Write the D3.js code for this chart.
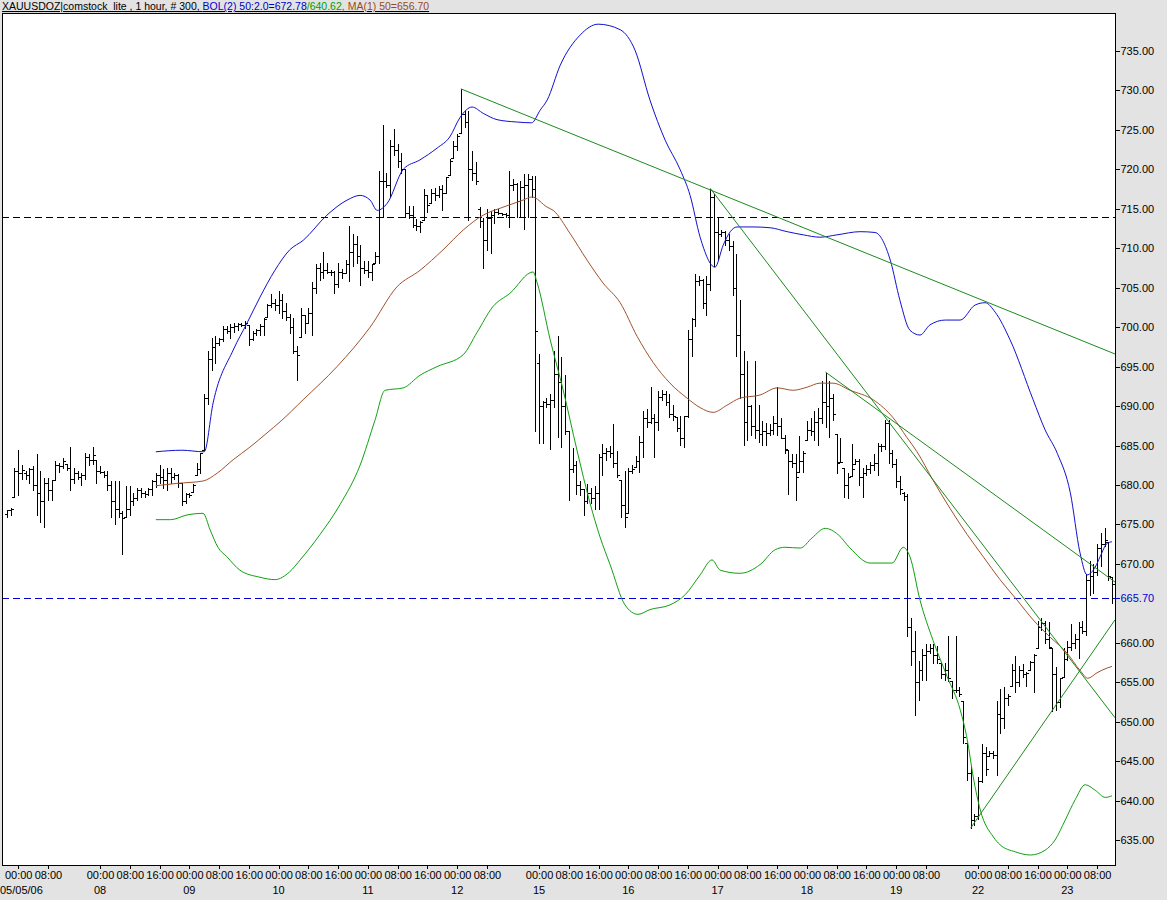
<!DOCTYPE html>
<html><head><meta charset="utf-8">
<script src="https://cdn.jsdelivr.net/npm/d3@7"></script>
<style>
body{margin:0;background:#e3e3e3;}
svg{display:block;font-family:"Liberation Sans",Arial,sans-serif;}
</style>
</head><body><svg id="c" width="1167" height="900"></svg>
<script>
// ---------- DATA (hourly OHLC, XAUUSD, 04 May 2006 21:00 -> 23 May 2006 12:00, weekends skipped) ----------
const openP = [
676.3,676.8,678.5,681.8,681.5,681.5,681.3,682.0,680.0,679.0,
678.0,680.3,679.3,680.6,682.5,682.4,682.7,682.2,680.8,681.5,
681.0,681.2,683.5,683.2,683.2,681.8,681.7,681.2,680.0,678.0,
677.0,676.5,676.0,677.0,678.0,678.4,679.3,679.0,678.9,679.5,
680.5,681.2,681.0,680.6,681.5,681.0,681.3,680.2,678.0,678.8,
679.1,681.3,682.0,684.4,691.0,696.0,697.5,698.0,698.5,699.8,
699.5,700.0,700.2,700.4,700.3,700.3,698.5,699.2,699.6,700.2,
701.3,702.8,703.0,702.8,703.5,702.0,701.3,700.0,697.0,698.8,
701.5,700.5,701.8,705.0,707.5,707.0,707.3,707.0,707.0,705.5,
707.0,706.8,708.0,709.5,710.5,709.0,707.5,707.2,707.0,708.1,
709.0,718.5,718.5,718.0,723.0,722.5,721.0,720.0,714.5,714.2,
713.0,712.8,713.6,716.8,715.7,717.0,716.8,717.5,717.0,719.3,
721.4,723.0,724.6,727.0,726.0,720.0,719.5,715.0,713.5,711.0,
713.8,714.2,714.6,714.5,714.3,714.2,718.0,718.2,716.0,717.8,
718.0,718.8,717.5,695.5,690.0,690.5,690.2,690.8,694.0,693.0,
690.0,686.8,682.0,682.5,680.0,679.5,678.0,679.0,678.3,679.0,
683.5,684.0,684.3,684.0,682.8,680.6,677.5,676.4,681.8,682.3,
683.0,685.5,688.5,688.0,688.5,688.0,691.2,691.5,690.5,689.0,
688.6,687.2,686.0,688.7,698.5,701.0,705.8,706.0,703.0,705.5,
716.5,712.0,711.8,712.0,711.0,710.3,705.0,699.0,694.0,688.0,
690.0,687.5,687.0,686.5,686.8,686.6,687.0,687.8,687.5,686.0,
684.4,683.0,682.8,681.7,683.0,685.7,687.0,686.8,688.0,688.5,
690.5,690.0,691.0,686.5,682.9,682.1,680.0,681.1,682.6,683.0,
681.0,681.5,682.0,682.5,682.8,685.0,685.0,687.8,684.0,682.6,
680.5,679.0,678.6,662.0,659.0,655.0,656.5,658.5,659.0,659.3,
658.5,657.4,656.0,656.5,655.1,654.0,654.0,652.6,647.3,643.5,
637.5,638.0,642.5,646.0,645.6,646.0,645.8,651.0,650.5,653.0,
654.5,656.5,655.0,656.5,656.0,656.6,657.5,659.3,662.0,662.5,
660.5,659.3,656.0,652.5,655.7,658.0,659.5,660.0,660.5,662.0,
661.5,668.0,668.5,669.0,672.0,672.5,672.8,668.3];
const highP = [
677.0,677.2,682.3,684.6,682.7,681.9,682.3,682.5,684.0,681.9,
681.0,681.0,680.8,683.2,682.9,683.6,682.7,684.9,682.3,681.9,
681.7,684.2,684.0,684.9,683.2,682.5,681.9,681.9,680.6,680.6,
680.6,676.8,680.0,680.0,679.1,679.8,679.8,679.4,679.8,680.8,
681.7,682.7,682.1,682.3,682.3,681.7,681.5,680.2,679.1,679.1,
680.2,682.9,684.2,691.6,697.1,698.8,699.0,698.8,700.3,700.3,
700.5,700.7,700.7,700.7,700.9,700.3,699.6,699.9,700.5,701.3,
703.0,704.3,703.7,704.7,704.3,703.2,701.8,701.3,697.7,702.6,
701.5,702.6,705.8,708.1,708.3,709.6,708.3,707.4,707.3,708.3,
707.5,708.7,713.0,711.9,711.7,710.6,708.5,708.5,708.1,709.6,
719.9,725.8,719.7,723.9,725.2,723.3,722.2,720.1,715.5,715.5,
713.8,713.6,717.6,716.8,717.6,717.8,718.0,718.2,719.1,721.4,
723.7,724.6,730.3,727.5,727.5,722.5,721.0,715.3,714.0,715.1,
714.8,715.1,715.1,714.6,714.6,719.9,718.9,718.4,718.7,719.5,
719.5,719.3,719.3,696.7,690.8,691.2,691.6,697.1,699.0,696.3,
694.1,686.8,684.8,683.2,680.6,679.6,680.2,679.8,680.0,684.0,
685.3,684.8,685.1,687.8,684.4,680.6,681.9,682.3,682.7,683.8,
686.3,689.5,689.7,692.5,689.1,692.0,692.2,692.0,691.6,690.3,
688.6,688.9,688.9,699.8,701.3,706.8,706.6,706.2,706.6,717.6,
717.0,714.0,712.5,712.3,711.9,711.0,709.4,703.6,697.1,695.8,
690.3,695.8,690.3,688.2,688.0,687.8,688.9,692.5,688.6,686.5,
684.4,684.0,684.0,686.3,684.4,688.2,688.6,689.5,689.9,693.3,
694.3,693.3,691.6,686.5,686.1,682.1,681.7,685.3,683.4,683.4,
682.3,682.6,683.0,684.0,685.5,685.3,688.3,688.3,684.5,683.4,
681.3,679.2,679.0,663.3,661.6,657.8,659.3,660.0,660.0,660.0,
659.7,657.4,657.6,661.0,655.1,661.0,654.5,652.6,647.3,644.5,
638.4,643.1,647.3,646.9,646.4,646.4,652.8,654.3,654.5,653.6,
657.4,658.5,657.2,657.4,656.4,657.8,658.7,662.9,663.3,662.9,
662.7,659.3,657.0,655.7,659.5,660.4,662.5,661.2,662.7,662.9,
668.8,670.5,670.1,672.6,674.1,674.7,672.8,668.4];
const lowP = [
676.0,676.2,678.5,678.7,680.8,680.8,680.2,679.4,676.2,675.3,
674.7,678.1,678.1,680.6,681.7,682.1,681.9,679.4,680.2,680.8,
680.0,680.8,682.5,682.7,680.2,681.5,681.0,679.4,676.0,675.1,
676.0,671.3,676.0,676.2,677.5,678.1,678.5,678.5,678.7,678.7,
679.8,680.2,679.6,679.4,680.2,680.8,679.8,677.5,677.7,678.5,
679.1,681.3,681.5,684.4,690.3,694.6,695.4,697.7,698.2,699.2,
698.6,699.4,699.6,700.1,699.9,697.7,698.4,699.0,699.0,699.0,
701.3,702.6,702.2,701.8,701.1,700.9,699.2,696.7,693.3,698.8,
699.2,700.5,699.0,704.3,706.0,706.2,706.8,706.6,704.3,705.1,
706.2,706.8,705.8,707.7,708.1,705.3,706.8,706.4,706.0,708.1,
708.1,714.0,717.8,716.5,721.8,720.3,719.5,714.0,713.8,712.7,
712.3,712.1,713.6,714.6,715.7,716.1,716.5,714.8,717.0,719.3,
721.4,722.5,724.6,725.4,713.6,718.7,718.2,712.7,707.5,709.8,
709.4,713.2,714.4,714.2,714.0,712.7,717.4,714.0,714.0,712.5,
714.0,716.5,686.9,685.3,685.3,689.9,684.6,689.9,686.1,684.8,
686.5,678.1,681.7,678.9,678.7,676.2,677.7,677.7,677.0,677.0,
681.2,683.2,683.6,682.3,681.0,676.0,674.7,676.4,681.5,682.3,
681.7,683.6,687.4,687.8,683.6,687.0,690.8,690.1,688.6,688.2,
686.8,685.1,684.8,688.6,696.3,700.1,705.3,702.4,701.5,704.7,
707.7,708.5,711.5,710.4,709.8,704.1,696.3,691.0,685.1,685.7,
686.3,685.9,685.5,685.1,685.1,686.3,686.5,686.3,685.9,684.0,
678.9,682.3,678.1,681.7,681.7,685.7,686.3,685.7,685.1,687.8,
687.4,686.1,688.2,681.5,682.9,678.5,678.3,681.1,682.6,680.0,
678.5,681.3,681.5,681.9,681.3,684.3,684.5,682.8,682.3,679.8,
678.8,678.1,660.8,657.2,650.9,652.8,655.3,655.3,658.7,657.4,
657.4,655.5,655.3,655.1,653.0,653.8,653.2,647.3,642.6,636.5,
636.9,637.6,642.4,643.3,645.6,645.4,643.3,648.6,649.2,652.1,
654.5,653.8,654.5,655.7,654.5,656.6,653.8,659.3,661.6,660.0,
659.3,651.3,651.5,651.9,655.7,657.8,659.1,659.3,658.1,661.2,
661.0,666.1,666.3,668.6,669.7,672.2,668.0,665.0];
const closeP = [
676.8,677.0,681.8,681.5,681.9,681.3,682.0,680.0,679.0,678.0,
680.3,679.3,680.6,682.5,682.4,683.0,682.2,680.8,681.5,681.0,
681.2,683.5,683.2,683.8,681.8,681.7,681.2,680.0,678.0,677.0,
676.5,675.8,677.0,678.0,678.4,679.3,679.0,678.9,679.5,680.5,
681.2,681.0,680.6,681.5,681.0,681.3,680.2,678.0,678.8,678.7,
680.0,682.0,684.0,691.0,696.0,697.5,698.0,698.5,699.8,699.5,
700.0,700.2,700.4,700.3,700.5,698.5,699.2,699.6,700.2,701.0,
702.8,703.0,702.8,703.5,702.0,701.3,700.0,697.0,696.5,701.5,
700.5,701.8,705.0,707.5,707.0,707.3,707.0,707.0,705.5,707.0,
706.8,708.0,709.5,710.5,709.0,707.5,707.2,707.0,708.0,709.0,
718.5,718.5,718.0,723.0,722.5,721.0,720.0,714.5,714.2,713.0,
712.8,713.3,716.8,715.5,717.0,716.8,717.5,717.0,719.0,721.0,
723.0,724.2,727.0,726.0,720.0,719.5,718.5,713.5,711.0,713.8,
714.2,714.6,714.5,714.3,714.2,718.0,718.2,716.0,717.8,718.0,
718.8,717.5,699.5,690.0,690.5,690.2,690.8,694.0,693.0,690.0,
686.8,682.0,682.5,680.0,679.5,678.0,679.0,678.3,679.0,683.5,
684.0,684.3,684.0,682.8,681.3,677.5,676.0,681.8,682.0,683.0,
685.5,688.5,688.0,688.5,688.0,691.2,691.5,690.5,689.0,688.8,
687.2,686.0,688.7,698.5,701.0,705.8,706.0,703.0,705.5,716.5,
712.0,711.8,712.0,711.0,710.3,705.0,699.0,694.0,688.0,690.0,
687.5,687.0,686.5,686.8,686.6,687.0,687.8,687.5,686.0,684.5,
683.0,682.8,681.0,683.0,684.0,687.0,686.8,688.0,688.5,690.5,
690.0,691.0,689.0,682.8,682.9,680.0,681.0,682.0,683.0,681.0,
681.5,682.0,682.5,682.8,685.0,685.0,687.8,684.0,682.6,680.5,
679.5,678.6,662.0,659.0,655.0,656.5,658.5,659.0,659.3,658.5,
658.0,656.0,656.5,655.5,654.0,654.0,653.5,648.0,643.5,637.5,
638.0,642.5,646.0,644.0,646.0,645.8,651.0,650.5,653.0,653.3,
656.5,655.0,656.5,656.0,656.2,657.5,658.5,662.0,662.5,660.5,
659.5,656.0,652.5,655.5,658.0,659.5,660.0,660.5,662.0,661.5,
668.0,668.5,669.0,672.0,672.5,673.0,668.5,667.4];

// Bollinger band (upper / lower) and 50-period moving average, read as [bar index, price]
const bolUpper = [[40,684.2],[47,684.4],[53,684.2],[55.4,690.4],[60.8,697.1],[64.5,700.5],[68,703.8],[72,707.2],[76,709.8],[79.6,711.0],[86,714.2],[91.4,716.1],[94.9,716.7],[97.6,716.1],[99.5,714.8],[102.2,715.7],[106.5,720.0],[111,721.2],[115.6,722.7],[119,724.1],[121.8,726.6],[125,727.9],[128,727.1],[131.7,726.3],[137,726.0],[141,725.9],[143.3,727.5],[145.2,728.8],[148.7,733.2],[154,737.0],[158.9,738.4],[164.8,737.7],[168.8,735.1],[172.8,728.8],[176.9,723.7],[180.9,720.0],[183.6,716.7],[186.3,711.4],[190.3,707.6],[192.5,710.4],[194.4,712.1],[196.2,712.7],[200.5,712.7],[205.1,712.6],[209.7,712.1],[214,711.7],[218.5,711.4],[223.1,711.7],[229.3,712.1],[233.3,712.0],[237.4,708.5],[240,703.4],[242.7,699.6],[245.4,699.0],[248.1,700.3],[252.2,700.9],[256.2,700.9],[260.2,702.8],[262.9,703.1],[265.6,701.9],[269.6,698.4],[275.8,690.8],[279,687.0],[282.3,684.0],[285.8,679.0],[288.4,671.4],[290.3,668.6],[292.5,669.6],[293.8,670.9],[295.7,672.6],[297,672.8]];
const bolLower = [[40,675.6],[44,675.6],[48.4,676.2],[52.7,676.4],[54.6,674.3],[56.7,672.1],[59.1,670.9],[62.6,669.2],[68,668.3],[72,668.0],[76,669.0],[78.8,670.5],[84.1,673.7],[89.5,677.5],[94.9,682.5],[98.9,688.2],[101.6,692.0],[106.5,692.3],[111,693.9],[115.6,695.0],[122.6,696.5],[126.3,699.3],[130.6,702.6],[135.2,704.3],[141.4,707.0],[142.5,705.6],[146,698.4],[149.5,692.0],[153.2,684.4],[156.7,677.7],[159.4,673.4],[162.1,669.9],[166.1,664.8],[169.6,663.6],[172.8,664.2],[178.2,664.8],[182.3,666.1],[186.3,668.6],[189.5,670.5],[191.7,669.2],[197,668.8],[202.4,669.9],[206.5,671.8],[209.1,672.1],[213.2,672.0],[216.4,673.3],[219.9,674.5],[223.4,673.7],[226.6,672.0],[232,670.1],[237.9,670.1],[240.9,672.1],[242.7,670.9],[245.4,665.4],[248.9,660.3],[252.7,655.7],[256.2,651.5],[258.1,647.7],[259.7,643.0],[261.6,638.8],[265.1,635.4],[266.9,634.4],[271,633.5],[275.1,633.1],[279,633.7],[281.7,635.0],[284.4,637.5],[287.1,640.1],[289.8,642.0],[292.5,641.3],[295.2,640.4],[297,640.6]];
const movAvg = [[40,679.9],[45.7,680.2],[52.7,680.5],[56.5,681.5],[60.8,683.2],[65.3,684.8],[69.9,686.6],[73.4,688.0],[79.6,690.8],[88.7,695.0],[97.6,700.0],[104.8,705.1],[111,707.2],[117.2,709.8],[122.6,712.3],[128,714.2],[133.3,715.2],[138.7,716.1],[141.1,716.5],[145.2,715.2],[146.8,714.8],[151.3,711.9],[155.9,708.5],[160.2,705.6],[164.8,703.1],[169.4,698.8],[173.7,695.5],[178.2,692.9],[182.8,691.0],[186.3,689.8],[189.8,689.2],[193.5,690.1],[197,691.0],[202.4,691.4],[207,692.3],[211.3,692.0],[215.1,692.4],[218.5,692.9],[222,692.9],[226.6,692.0],[232.8,690.8],[238.2,688.5],[241.9,686.0],[244.6,684.2],[248.9,680.6],[253.5,677.0],[258.1,673.7],[262.4,670.9],[266.9,668.0],[271.5,665.4],[275.8,662.9],[280.4,660.7],[284.9,658.7],[288.4,656.5],[290.5,655.5],[293,656.2],[295.7,656.8],[297,657.0]];

// trend lines: [startIndex, startPrice, endIndex, endPrice]
const trendLines = [[122,730.2,297.8,696.6],[189,717.6,297.8,650.5],[220,694.3,297.8,667.7],[259,636.5,297.8,662.9]];
// horizontal reference lines
const refLevel = 714.0;
const lastLevel = 665.70;

// axis ticks
const yTickVals = [735,730,725,720,715,710,705,700,695,690,685,680,675,670,660,655,650,645,640,635];
const timeTickIdx = [3,11,25,33,41,49,57,65,73,81,89,97,105,113,121,129,143,151,159,167,175,183,191,199,207,215,223,231,239,247,261,269,277,285,293];
const timeTickLabels = ["00:00","08:00","00:00","08:00","16:00","00:00","08:00","16:00","00:00","08:00","16:00","00:00","08:00","16:00","00:00","08:00","00:00","08:00","16:00","00:00","08:00","16:00","00:00","08:00","16:00","00:00","08:00","16:00","00:00","08:00","00:00","08:00","16:00","00:00","08:00"];
const dateTickIdx = [3,25,49,73,97,121,143,167,191,215,239,261,285];
const dateLabels = ["05/05/06","08","09","10","11","12","15","16","17","18","19","22","23"];

const titleParts = [
  ["XAUUSDOZ|comstock_lite , 1 hour, # 300, ", "#000000"],
  ["BOL(2) 50:2.0=672.78", "#0000c8"],
  ["/640.62", "#00a000"],
  [", MA(1) 50=656.70", "#9a4a1a"]
];

// ---------- DRAW ----------
const W = 1167, H = 900;
const plot = {left: 2, top: 13, right: 1115, bottom: 865};
const svg = d3.select('#c');
svg.append('rect').attr('width', W).attr('height', H).attr('fill', '#e3e3e3');
svg.append('rect')
  .attr('x', plot.left + 0.5).attr('y', plot.top + 0.5)
  .attr('width', plot.right - plot.left).attr('height', plot.bottom - plot.top)
  .attr('fill', '#ffffff').attr('stroke', '#000').attr('stroke-width', 1)
  .attr('shape-rendering', 'crispEdges');

svg.append('clipPath').attr('id', 'pc').append('rect')
  .attr('x', plot.left + 1).attr('y', plot.top + 1)
  .attr('width', plot.right - plot.left - 1).attr('height', plot.bottom - plot.top - 1);

const x = d3.scaleLinear().domain([0, 297]).range([7, 1112]);
const y = d3.scaleLinear().domain([635, 735]).range([840, 51]);

const g = svg.append('g').attr('clip-path', 'url(#pc)');

// dashed reference lines
g.append('line').attr('x1', plot.left).attr('x2', plot.right)
  .attr('y1', Math.round(y(refLevel)) + 0.5).attr('y2', Math.round(y(refLevel)) + 0.5)
  .attr('stroke', '#000').attr('stroke-dasharray', '7,4').attr('shape-rendering', 'crispEdges');
g.append('line').attr('x1', plot.left).attr('x2', plot.right)
  .attr('y1', Math.round(y(lastLevel)) + 0.5).attr('y2', Math.round(y(lastLevel)) + 0.5)
  .attr('stroke', '#0000d0').attr('stroke-dasharray', '7,4').attr('shape-rendering', 'crispEdges');

// OHLC bars
const px = v => Math.round(x(v)) + 0.5;
const py = v => Math.round(y(v)) + 0.5;
g.append('g').selectAll('path').data(d3.range(openP.length)).join('path')
  .attr('d', i => {
    const cx = px(i);
    return `M${cx},${py(highP[i])}V${py(lowP[i])}M${cx - 2.5},${py(openP[i])}H${cx}M${cx},${py(closeP[i])}H${cx + 2.5}`;
  })
  .attr('fill', 'none').attr('stroke', '#000').attr('stroke-width', 1)
  .attr('shape-rendering', 'crispEdges');

// indicator lines
const line = d3.line().x(d => x(d[0])).y(d => y(d[1])).curve(d3.curveMonotoneX);
g.append('path').datum(movAvg).attr('d', line).attr('fill', 'none').attr('stroke', '#a0522d').attr('stroke-width', 1);
g.append('path').datum(bolLower).attr('d', line).attr('fill', 'none').attr('stroke', '#10a010').attr('stroke-width', 1);
g.append('path').datum(bolUpper).attr('d', line).attr('fill', 'none').attr('stroke', '#1010d0').attr('stroke-width', 1);

// trend lines
g.append('g').selectAll('line').data(trendLines).join('line')
  .attr('x1', d => x(d[0])).attr('y1', d => y(d[1]))
  .attr('x2', d => x(d[2])).attr('y2', d => y(d[3]))
  .attr('stroke', '#1c8a1c').attr('stroke-width', 1);

// Y axis (right)
const yAxis = d3.axisRight(y).tickValues(yTickVals).tickFormat(d3.format('.2f')).tickSize(4).tickPadding(1);
const ya = svg.append('g').attr('transform', `translate(${plot.right + 0.5},0)`).call(yAxis);
ya.select('.domain').remove();
ya.selectAll('line').attr('shape-rendering', 'crispEdges').attr('stroke', '#000');
ya.selectAll('text').attr('font-size', 11).attr('fill', '#000').attr('font-family', '"Liberation Sans",Arial,sans-serif');
// last value marker
const lv = svg.append('g').attr('transform', `translate(${plot.right + 0.5},${py(lastLevel)})`);
lv.append('line').attr('x2', 4).attr('stroke', '#0000d0').attr('shape-rendering', 'crispEdges');
lv.append('text').attr('x', 5).attr('dy', '0.32em').attr('font-size', 11).attr('fill', '#0000d0').text(d3.format('.2f')(lastLevel));

// X axis (bottom)
const xAxis = d3.axisBottom(x).tickValues(timeTickIdx).tickFormat((d, k) => timeTickLabels[k]).tickSize(3).tickPadding(3);
const xa = svg.append('g').attr('transform', `translate(0,${plot.bottom + 0.5})`).call(xAxis);
xa.select('.domain').remove();
xa.selectAll('line').attr('shape-rendering', 'crispEdges').attr('stroke', '#000');
xa.selectAll('text').attr('font-size', 11).attr('fill', '#000').attr('font-family', '"Liberation Sans",Arial,sans-serif');

svg.append('g').selectAll('text').data(dateTickIdx).join('text')
  .attr('x', (d, k) => k === 0 ? 0 : x(d))
  .attr('y', 894)
  .attr('text-anchor', (d, k) => k === 0 ? 'start' : 'middle')
  .attr('font-size', 11).attr('fill', '#000')
  .text((d, k) => dateLabels[k]);

// title
const t = svg.append('text').attr('x', 2).attr('y', 10).attr('font-size', 10.5)
  .style('text-decoration', 'underline');
titleParts.forEach(p => t.append('tspan').attr('fill', p[1]).text(p[0]));
</script>
</body></html>
